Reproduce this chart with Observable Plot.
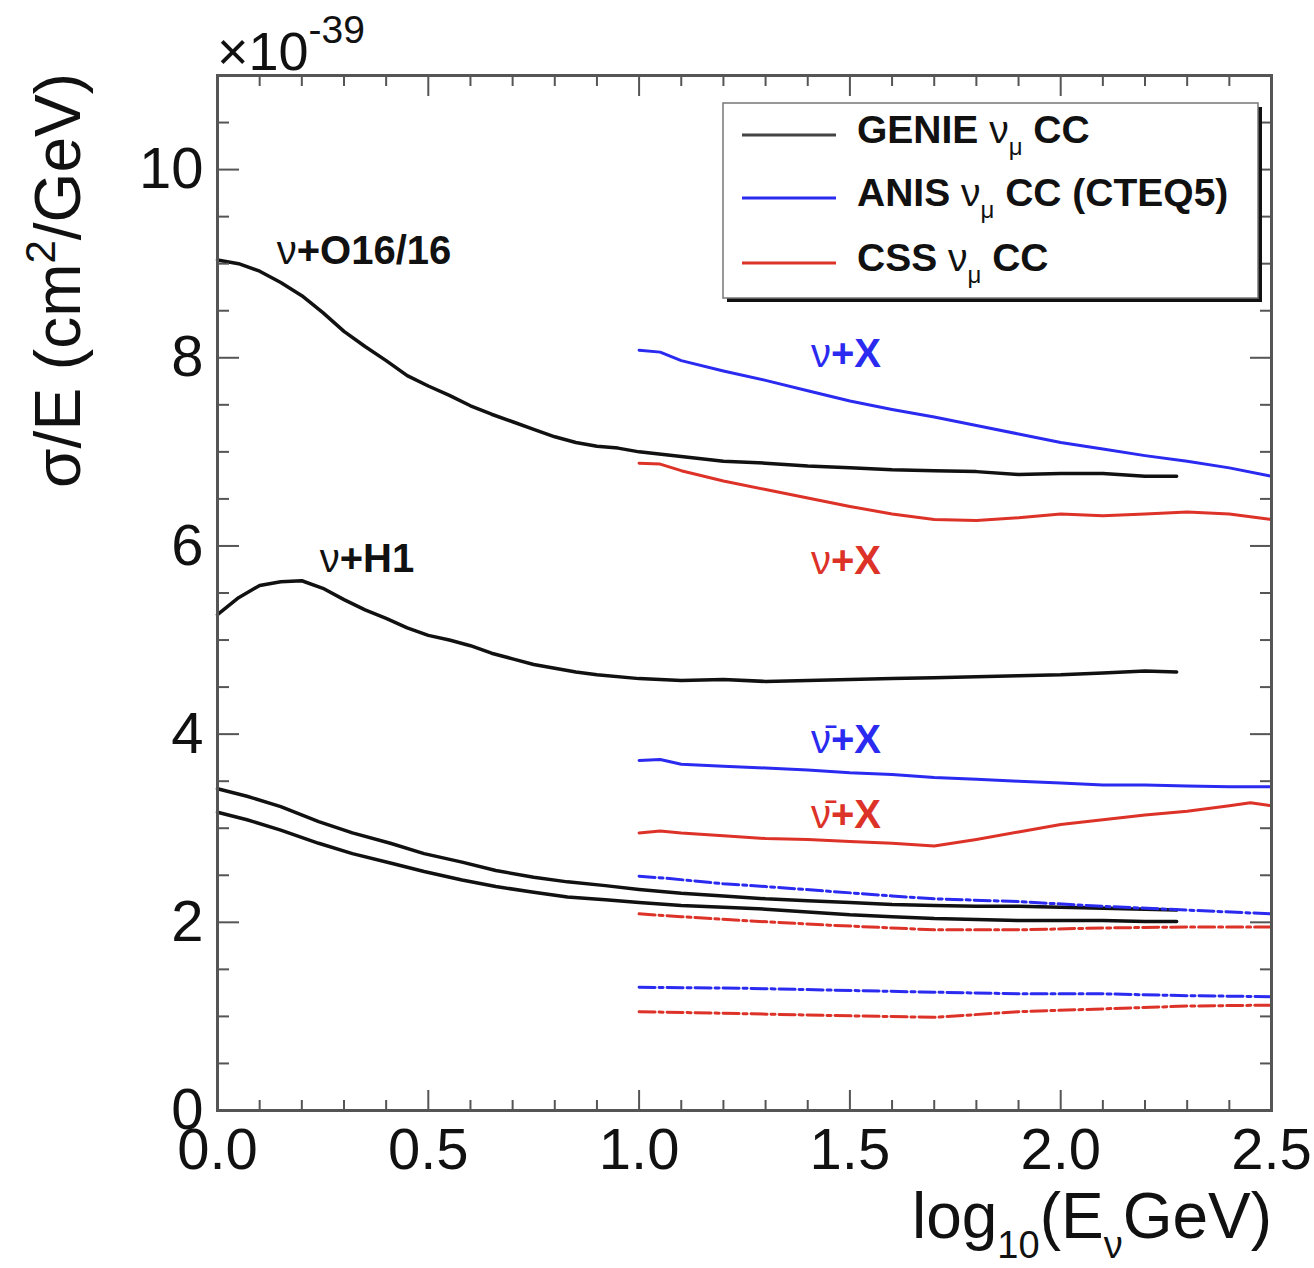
<!DOCTYPE html>
<html><head><meta charset="utf-8">
<script src="https://cdn.jsdelivr.net/npm/d3@7"></script>
<script src="https://cdn.jsdelivr.net/npm/@observablehq/plot@0.6"></script>
<style>body{margin:0;background:#fff;} svg{display:block}</style>
</head><body><div id="chart"></div>
<script>
// ---- data: [log10(E/GeV), sigma/E (1e-39 cm^2/GeV)] ----
const genieO16 = [[0,9.04],[0.05,9.00],[0.1,8.92],[0.15,8.80],[0.2,8.66],[0.25,8.48],[0.3,8.28],[0.35,8.12],[0.4,7.97],[0.45,7.81],[0.5,7.70],[0.55,7.60],[0.6,7.49],[0.65,7.40],[0.7,7.32],[0.75,7.24],[0.8,7.16],[0.85,7.10],[0.9,7.06],[0.95,7.04],[1.0,7.00],[1.1,6.95],[1.2,6.90],[1.3,6.88],[1.4,6.85],[1.5,6.83],[1.6,6.81],[1.7,6.80],[1.8,6.79],[1.9,6.76],[2.0,6.77],[2.1,6.77],[2.2,6.74],[2.275,6.74]];
const genieH1 = [[0,5.27],[0.05,5.45],[0.1,5.58],[0.15,5.62],[0.2,5.63],[0.25,5.55],[0.3,5.43],[0.35,5.32],[0.4,5.23],[0.45,5.13],[0.5,5.05],[0.55,5.00],[0.6,4.94],[0.65,4.86],[0.7,4.80],[0.75,4.74],[0.8,4.70],[0.85,4.66],[0.9,4.63],[1.0,4.59],[1.1,4.57],[1.2,4.58],[1.3,4.56],[1.4,4.57],[1.5,4.58],[1.6,4.59],[1.7,4.60],[1.8,4.61],[1.9,4.62],[2.0,4.63],[2.1,4.65],[2.2,4.67],[2.275,4.66]];
const genieLowA = [[0,3.42],[0.07,3.34],[0.15,3.23],[0.24,3.07],[0.32,2.95],[0.41,2.84],[0.49,2.73],[0.58,2.64],[0.66,2.55],[0.75,2.48],[0.83,2.43],[0.92,2.39],[1.0,2.35],[1.1,2.31],[1.2,2.28],[1.3,2.25],[1.4,2.23],[1.5,2.21],[1.6,2.19],[1.7,2.18],[1.8,2.17],[1.9,2.17],[2.0,2.16],[2.1,2.15],[2.2,2.14],[2.275,2.13]];
const genieLowB = [[0,3.17],[0.07,3.09],[0.15,2.98],[0.24,2.84],[0.32,2.73],[0.41,2.63],[0.49,2.54],[0.58,2.45],[0.66,2.38],[0.75,2.32],[0.83,2.27],[0.92,2.24],[1.0,2.21],[1.1,2.18],[1.2,2.16],[1.3,2.14],[1.4,2.11],[1.5,2.08],[1.6,2.06],[1.7,2.04],[1.8,2.03],[1.9,2.02],[2.0,2.02],[2.1,2.02],[2.2,2.01],[2.275,2.01]];
const anisNuX = [[1.0,8.08],[1.05,8.06],[1.1,7.97],[1.2,7.86],[1.3,7.76],[1.4,7.65],[1.5,7.54],[1.6,7.45],[1.7,7.37],[1.8,7.28],[1.9,7.19],[2.0,7.10],[2.1,7.03],[2.2,6.96],[2.3,6.90],[2.4,6.83],[2.5,6.74]];
const cssNuX = [[1.0,6.88],[1.05,6.87],[1.1,6.80],[1.2,6.69],[1.3,6.60],[1.4,6.51],[1.5,6.42],[1.6,6.34],[1.7,6.28],[1.8,6.27],[1.9,6.30],[2.0,6.34],[2.1,6.32],[2.2,6.34],[2.3,6.36],[2.4,6.34],[2.5,6.28]];
const anisNubarX = [[1.0,3.72],[1.05,3.73],[1.1,3.68],[1.2,3.66],[1.3,3.64],[1.4,3.62],[1.5,3.59],[1.6,3.57],[1.7,3.54],[1.8,3.52],[1.9,3.50],[2.0,3.48],[2.1,3.46],[2.2,3.46],[2.3,3.45],[2.4,3.44],[2.5,3.44]];
const cssNubarX = [[1.0,2.95],[1.05,2.97],[1.1,2.95],[1.2,2.92],[1.3,2.89],[1.4,2.88],[1.5,2.86],[1.6,2.84],[1.7,2.81],[1.8,2.88],[1.9,2.96],[2.0,3.04],[2.1,3.09],[2.2,3.14],[2.3,3.18],[2.4,3.24],[2.45,3.27],[2.5,3.24]];
const anisDashA = [[1.0,2.49],[1.06,2.47],[1.2,2.41],[1.3,2.38],[1.45,2.33],[1.6,2.28],[1.7,2.25],[1.9,2.22],[2.1,2.17],[2.3,2.13],[2.5,2.09]];
const cssDashA = [[1.0,2.09],[1.1,2.06],[1.24,2.02],[1.45,1.97],[1.6,1.94],[1.7,1.92],[1.9,1.92],[2.1,1.94],[2.3,1.95],[2.5,1.95]];
const anisDashB = [[1.0,1.31],[1.24,1.30],[1.45,1.28],[1.67,1.26],[1.9,1.24],[2.1,1.24],[2.3,1.22],[2.5,1.21]];
const cssDashB = [[1.0,1.05],[1.24,1.03],[1.45,1.01],[1.7,0.99],[1.9,1.05],[2.1,1.08],[2.3,1.11],[2.5,1.12]];

const xMajor = [0, 0.5, 1.0, 1.5, 2.0, 2.5];
const yMajor = [0, 2, 4, 6, 8, 10];

const BLACK = "#111", BLUE = "#2a2af0", RED = "#dc3228";

const curveLabels = [
  {x: 0.188, y: 9.00, nu: "ν", rest: "+O16/16", color: BLACK},
  {x: 0.29, y: 5.72, nu: "ν", rest: "+H1", color: BLACK},
  {x: 1.455, y: 7.90, nu: "ν", rest: "+X", color: BLUE},
  {x: 1.455, y: 5.70, nu: "ν", rest: "+X", color: RED},
  {x: 1.455, y: 3.80, nu: "ν̄", rest: "+X", color: BLUE},
  {x: 1.455, y: 3.00, nu: "ν̄", rest: "+X", color: RED}
];

const legendEntries = [
  {model: "GENIE", tail: " CC", color: "#444"},
  {model: "ANIS", tail: " CC (CTEQ5)", color: BLUE},
  {model: "CSS", tail: " CC", color: RED}
];

// ---- chart ----
const xMinor = d3.range(0, 2.501, 0.1).filter(v => Math.abs(v / 0.5 - Math.round(v / 0.5)) > 1e-6);
const yMinor = d3.range(0.5, 11.01, 0.5).filter(v => v % 2 !== 0);
const fx = d => d[0], fy = d => d[1];
const solid = (data, stroke, w) => Plot.line(data, {x: fx, y: fy, stroke, strokeWidth: w, strokeLinejoin: "round"});
const dashed = (data, stroke) => Plot.line(data, {x: fx, y: fy, stroke, strokeWidth: 3, strokeDasharray: "16,4,4,4"});
const tickStyle = {stroke: "#555", strokeWidth: 2, label: null};
const none = () => "";

const svg = Plot.plot({
  width: 1314, height: 1268,
  marginLeft: 217, marginRight: 43, marginTop: 75, marginBottom: 158,
  x: {domain: [0, 2.5]},
  y: {domain: [0, 11]},
  color: {type: "identity"},
  style: {fontFamily: "'Liberation Sans', Arial, sans-serif", background: "white", color: "#111"},
  marks: [
    solid(genieO16, BLACK, 3.5),
    solid(genieH1, BLACK, 3.5),
    solid(genieLowA, BLACK, 3.5),
    solid(genieLowB, BLACK, 3.5),
    solid(anisNuX, BLUE, 3),
    solid(cssNuX, RED, 3),
    solid(anisNubarX, BLUE, 3),
    solid(cssNubarX, RED, 3),
    dashed(anisDashA, BLUE),
    dashed(cssDashA, RED),
    dashed(anisDashB, BLUE),
    dashed(cssDashB, RED),
    Plot.text(curveLabels, {x: "x", y: "y", text: "nu", fill: "color", textAnchor: "end", lineAnchor: "bottom", fontSize: 40, fontWeight: "normal"}),
    Plot.text(curveLabels, {x: "x", y: "y", text: "rest", fill: "color", textAnchor: "start", lineAnchor: "bottom", fontSize: 40, fontWeight: "bold"}),
    Plot.axisX(xMajor, {anchor: "bottom", tickSize: -20, tickPadding: 37, fontSize: 58, tickFormat: d3.format(".1f"), ...tickStyle, fill: "#111"}),
    Plot.axisX(xMinor, {anchor: "bottom", tickSize: -10, tickFormat: none, ...tickStyle}),
    Plot.axisX(xMajor, {anchor: "top", tickSize: -20, tickFormat: none, ...tickStyle}),
    Plot.axisX(xMinor, {anchor: "top", tickSize: -10, tickFormat: none, ...tickStyle}),
    Plot.axisY(yMajor, {anchor: "left", tickSize: -22, tickPadding: 36, fontSize: 58, tickFormat: d3.format("d"), ...tickStyle, fill: "#111"}),
    Plot.axisY(yMinor, {anchor: "left", tickSize: -12, tickFormat: none, ...tickStyle}),
    Plot.axisY(yMajor, {anchor: "right", tickSize: -22, tickFormat: none, ...tickStyle}),
    Plot.axisY(yMinor, {anchor: "right", tickSize: -12, tickFormat: none, ...tickStyle}),
    Plot.frame({stroke: "#555", strokeWidth: 3})
  ]
});

const s = d3.select(svg);
const FONT = "'Liberation Sans', Arial, sans-serif";

// y-axis title
const yt = s.append("text").attr("transform", "translate(80,73) rotate(-90)")
  .attr("text-anchor", "end").attr("font-size", 64).attr("font-family", FONT).attr("fill", "#111");
yt.append("tspan").text("σ/E (cm");
yt.append("tspan").attr("font-size", 42).attr("dy", -25).text("2");
yt.append("tspan").attr("dy", 25).text("/GeV)");

// x-axis title
const xt = s.append("text").attr("x", 1272).attr("y", 1238)
  .attr("text-anchor", "end").attr("font-size", 64).attr("font-family", FONT).attr("fill", "#111");
xt.append("tspan").text("log");
xt.append("tspan").attr("font-size", 38).attr("dy", 20).text("10");
xt.append("tspan").attr("dy", -20).text("(E");
xt.append("tspan").attr("font-size", 38).attr("dy", 20).text("ν");
xt.append("tspan").attr("dy", -20).text("GeV)");

// exponent
const ex = s.append("text").attr("x", 217).attr("y", 70).attr("text-anchor", "start")
  .attr("font-size", 54).attr("font-family", FONT).attr("fill", "#111");
ex.append("tspan").text("×10");
ex.append("tspan").attr("font-size", 39).attr("dy", -27).text("-39");

// legend
const lg = s.append("g");
lg.append("rect").attr("x", 727).attr("y", 107).attr("width", 535).attr("height", 195).attr("fill", "#111");
lg.append("rect").attr("x", 723).attr("y", 103).attr("width", 535).attr("height", 195)
  .attr("fill", "white").attr("stroke", "#777").attr("stroke-width", 1.5);
const rowY = [135, 198, 263];
legendEntries.forEach((e, i) => {
  lg.append("line").attr("x1", 742).attr("x2", 836).attr("y1", rowY[i]).attr("y2", rowY[i])
    .attr("stroke", e.color).attr("stroke-width", 3);
  const t = lg.append("text").attr("x", 857).attr("y", rowY[i] + 8).attr("text-anchor", "start")
    .attr("font-size", 39).attr("font-family", FONT).attr("fill", "#111");
  t.append("tspan").attr("font-weight", "bold").text(e.model + " ");
  t.append("tspan").attr("font-weight", "normal").text("ν");
  t.append("tspan").attr("font-size", 24).attr("dy", 12).text("μ");
  t.append("tspan").attr("font-weight", "bold").attr("dy", -12).text(e.tail);
});

document.getElementById("chart").appendChild(svg);
</script></body></html>
